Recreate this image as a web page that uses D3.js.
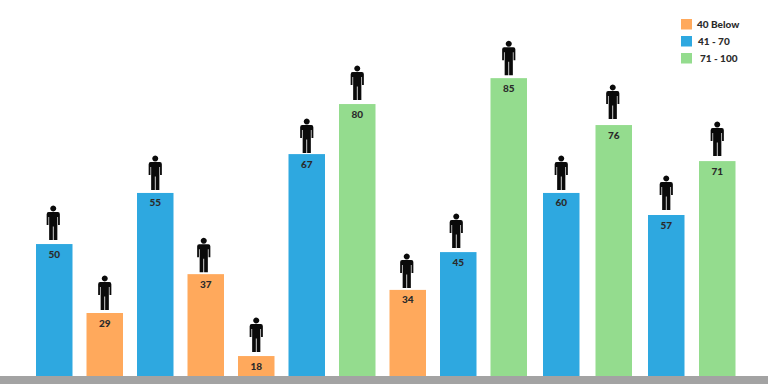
<!DOCTYPE html>
<html>
<head>
<meta charset="utf-8">
<script src="https://cdn.jsdelivr.net/npm/d3@7"></script>
<style>
    html, body { margin: 0; padding: 0; background: #fff; }
    svg { display: block; }
    text { font-family: "Lato", sans-serif; font-weight: 900; fill: #2b2b2b; }
</style>
</head>
<body>
<div id="chart"></div>
<script>
// printed values, one per bar
const barLabels = [50, 29, 55, 37, 18, 67, 80, 34, 45, 85, 60, 76, 57, 71];
// the drawn bars do not follow the printed numbers, so their heights are read off separately
const barLevels = [37.7, 18, 52.3, 29.1, 5.7, 63.4, 77.7, 24.6, 35.4, 85.1, 52.3, 71.7, 46, 61.4];
const barGroups = [1, 0, 1, 0, 0, 1, 2, 0, 1, 2, 1, 2, 1, 2];

const groupNames = ['40 Below', '41 - 70', '71 - 100'];
const groupColors = ['#ffa95c', '#2ea8e0', '#94dc8e'];

const width = 768;
const height = 384;
const baseline = 376;
const barWidth = 36.5;

// the icons were placed by hand in the original, so they sit a little unevenly
const iconGaps = [4, 3, 3, 2, 4, 1, 4, 2, 4, 3, 3, 6, 5, 5];
const iconShifts = [-1, 0, 0, -2, 0, 0, 0, -1, -2, 0, 0, -1, 0, 0];

// person icon, origin at the feet centre
const personPath = 'M0,-34.5 a3,3 0 1 1 -0.01,0 Z' +
    'M-4.6,-28 H4.6 Q6.6,-28 6.6,-25.8 V-15 H4.8 V-23 H4.1 V0 H0.4 V-13.5 H-0.4 V0 H-4.1 V-23 H-4.8 V-15 H-6.6 V-25.8 Q-6.6,-28 -4.6,-28 Z';

const svg = d3.select('#chart').append('svg')
    .attr('width', width)
    .attr('height', height)
    .attr('viewBox', `0 0 ${width} ${height}`);

// spacing widens slightly after the tenth bar in the original
const x = d3.scaleLinear().domain([0, 9, 12, 13]).range([36, 490.5, 648, 699]);
const y = d3.scaleLinear().domain([0, 100]).range([baseline, 26]);
const color = d3.scaleOrdinal().domain([0, 1, 2]).range(groupColors);

function drawBars() {
    const bars = svg.append('g').selectAll('g')
        .data(barLabels.map((label, i) => ({ label, level: barLevels[i], group: barGroups[i], i })))
        .enter()
        .append('g')
        .attr('transform', d => `translate(${x(d.i)},${y(d.level)})`);

    bars.append('rect')
        .attr('width', barWidth)
        .attr('height', d => baseline - y(d.level))
        .attr('fill', d => color(d.group));

    bars.append('text')
        .attr('x', barWidth / 2)
        .attr('y', 13.5)
        .attr('text-anchor', 'middle')
        .attr('font-size', 10)
        .text(d => d.label);

    bars.append('path')
        .attr('d', personPath)
        .attr('transform', d => `translate(${barWidth / 2 + iconShifts[d.i]},${-iconGaps[d.i]})`)
        .attr('fill', '#0a0a0a');
}

function drawLegend() {
    const textOffsets = [697, 698, 700];
    const items = svg.append('g').selectAll('g')
        .data(groupNames)
        .enter()
        .append('g')
        .attr('transform', (d, i) => `translate(681,${19 + i * 17})`);

    items.append('rect')
        .attr('width', 11)
        .attr('height', 10.5)
        .attr('fill', (d, i) => groupColors[i]);

    items.append('text')
        .attr('x', (d, i) => textOffsets[i] - 681)
        .attr('y', 8.5)
        .attr('font-size', 10)
        .text(d => d);
}

drawBars();
drawLegend();

// grey floor strip
svg.append('rect')
    .attr('x', 0)
    .attr('y', baseline)
    .attr('width', width)
    .attr('height', height - baseline)
    .attr('fill', '#a3a3a3');
</script>
</body>
</html>
